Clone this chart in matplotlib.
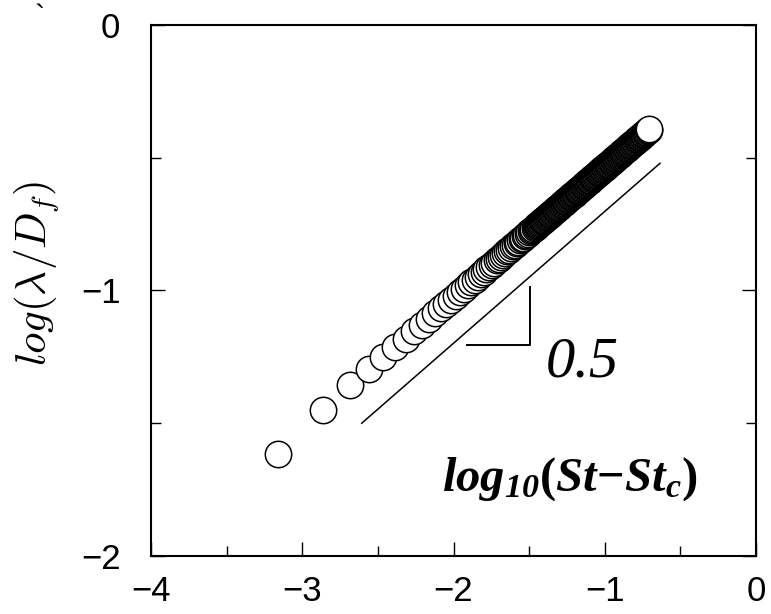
import matplotlib
matplotlib.use("Agg")
import matplotlib.pyplot as plt
from matplotlib.ticker import MultipleLocator

plt.rcParams['mathtext.fontset'] = 'custom'
plt.rcParams['mathtext.rm'] = 'Liberation Serif:bold'
plt.rcParams['mathtext.bf'] = 'Liberation Serif:bold'
plt.rcParams['mathtext.it'] = 'Liberation Serif:italic:bold'
plt.rcParams['mathtext.bfit'] = 'Liberation Serif:italic:bold'

# ---- data ----
# individually resolved circles
x_sparse = [-3.162, -2.861, -2.685, -2.560, -2.463, -2.384, -2.317, -2.259,
            -2.208, -2.162, -2.121, -2.083, -2.048, -2.016, -1.986, -1.958,
            -1.932, -1.907, -1.883, -1.861, -1.840, -1.820, -1.800, -1.782,
            -1.764, -1.747, -1.731, -1.715, -1.700, -1.685, -1.671, -1.657,
            -1.643, -1.631, -1.618, -1.606, -1.594, -1.582, -1.571, -1.560,
            -1.549, -1.539, -1.529, -1.519, -1.509, -1.499, -1.490, -1.481,
            -1.472, -1.463]
y_sparse = [-1.614, -1.450, -1.356, -1.296, -1.252, -1.214, -1.182, -1.154,
            -1.129, -1.106, -1.086, -1.067, -1.050, -1.035, -1.020, -1.006,
            -0.993, -0.981, -0.969, -0.959, -0.948, -0.939, -0.929, -0.920,
            -0.911, -0.903, -0.895, -0.887, -0.880, -0.872, -0.865, -0.859,
            -0.852, -0.846, -0.840, -0.834, -0.828, -0.822, -0.816, -0.811,
            -0.806, -0.801, -0.796, -0.791, -0.786, -0.781, -0.777, -0.772,
            -0.768, -0.764]

# densely packed circles forming the black band
x_dense = [-1.455, -1.450, -1.445, -1.440, -1.435, -1.430, -1.425, -1.420, -1.415, -1.410,
           -1.405, -1.400, -1.395, -1.390, -1.385, -1.380, -1.375, -1.370, -1.365, -1.360,
           -1.355, -1.350, -1.345, -1.340, -1.335, -1.330, -1.325, -1.320, -1.315, -1.310,
           -1.305, -1.300, -1.295, -1.290, -1.285, -1.280, -1.275, -1.270, -1.265, -1.260,
           -1.255, -1.250, -1.245, -1.240, -1.235, -1.230, -1.225, -1.220, -1.215, -1.210,
           -1.205, -1.200, -1.195, -1.190, -1.185, -1.180, -1.175, -1.170, -1.165, -1.160,
           -1.155, -1.150, -1.145, -1.140, -1.135, -1.130, -1.125, -1.120, -1.115, -1.110,
           -1.105, -1.100, -1.095, -1.090, -1.085, -1.080, -1.075, -1.070, -1.065, -1.060,
           -1.055, -1.050, -1.045, -1.040, -1.035, -1.030, -1.025, -1.020, -1.015, -1.010,
           -1.005, -1.000, -0.995, -0.990, -0.985, -0.980, -0.975, -0.970, -0.965, -0.960,
           -0.955, -0.950, -0.945, -0.940, -0.935, -0.930, -0.925, -0.920, -0.915, -0.910,
           -0.905, -0.900, -0.895, -0.890, -0.885, -0.880, -0.875, -0.870, -0.865, -0.860,
           -0.855, -0.850, -0.845, -0.840, -0.835, -0.830, -0.825, -0.820, -0.815, -0.810,
           -0.805, -0.800, -0.795, -0.790, -0.785, -0.780, -0.775, -0.770, -0.765, -0.760,
           -0.755, -0.750, -0.745, -0.740, -0.735, -0.730, -0.725, -0.720, -0.715, -0.710,
           -0.705]
y_dense = [-0.760, -0.757, -0.755, -0.752, -0.750, -0.747, -0.745, -0.742, -0.740, -0.738,
           -0.735, -0.733, -0.730, -0.728, -0.725, -0.723, -0.720, -0.718, -0.716, -0.713,
           -0.711, -0.708, -0.706, -0.703, -0.701, -0.698, -0.696, -0.693, -0.691, -0.689,
           -0.686, -0.684, -0.681, -0.679, -0.676, -0.674, -0.671, -0.669, -0.667, -0.664,
           -0.662, -0.659, -0.657, -0.654, -0.652, -0.649, -0.647, -0.645, -0.642, -0.640,
           -0.637, -0.635, -0.632, -0.630, -0.627, -0.625, -0.622, -0.620, -0.618, -0.615,
           -0.613, -0.610, -0.608, -0.605, -0.603, -0.600, -0.598, -0.596, -0.593, -0.591,
           -0.588, -0.586, -0.583, -0.581, -0.578, -0.576, -0.573, -0.571, -0.569, -0.566,
           -0.564, -0.561, -0.559, -0.556, -0.554, -0.551, -0.549, -0.547, -0.544, -0.542,
           -0.539, -0.537, -0.534, -0.532, -0.529, -0.527, -0.524, -0.522, -0.520, -0.517,
           -0.515, -0.512, -0.510, -0.507, -0.505, -0.502, -0.500, -0.498, -0.495, -0.493,
           -0.490, -0.488, -0.485, -0.483, -0.480, -0.478, -0.475, -0.473, -0.471, -0.468,
           -0.466, -0.463, -0.461, -0.458, -0.456, -0.453, -0.451, -0.449, -0.446, -0.444,
           -0.441, -0.439, -0.436, -0.434, -0.431, -0.429, -0.426, -0.424, -0.422, -0.419,
           -0.417, -0.414, -0.412, -0.409, -0.407, -0.404, -0.402, -0.400, -0.397, -0.395,
           -0.392]

# guide line with slope 0.5
guide_x = [-2.607, -0.635]
guide_y = [-1.500, -0.521]

# slope triangle
tri_x = [-1.911, -1.494, -1.494]
tri_y = [-1.205, -1.205, -0.987]

x_ticks = [-4, -3, -2, -1, 0]
y_ticks = [-2, -1, 0]
tick_labels_x = ['\u22124', '\u22123', '\u22122', '\u22121', '0']
tick_labels_y = ['\u22122', '\u22121', '0']

# ---- figure ----
fig = plt.figure(figsize=(7.71, 6.14), dpi=100)
ax = fig.add_axes([151/771, 1 - 556/614, 605/771, 531/614])

xs = x_sparse + x_dense
ys = y_sparse + y_dense
ax.plot(xs, ys, linestyle='none', marker='o', markersize=19,
        markerfacecolor='white', markeredgecolor='black', markeredgewidth=1.1,
        zorder=3)

ax.plot(guide_x, guide_y, color='black', lw=1.1, zorder=2)
ax.plot(tri_x, tri_y, color='black', lw=1.4, zorder=2)

ax.text(-1.15, -1.27, '0.5', fontsize=42, fontstyle='italic',
        family='Liberation Serif', ha='center', va='center')

ax.text(-1.23, -1.71,
        r'$\mathbfit{log}_{\mathbfit{10}}\mathbf{(}\mathbfit{St}\mathbf{-}\mathbfit{St}_{\mathbfit{c}}\mathbf{)}$',
        fontsize=35, ha='center', va='center', math_fontfamily='custom')

ax.set_xlim(-4, 0)
ax.set_ylim(-2, 0)
ax.set_xticks(x_ticks)
ax.set_xticklabels(tick_labels_x)
ax.set_yticks(y_ticks)
ax.set_yticklabels(tick_labels_y)
ax.xaxis.set_minor_locator(MultipleLocator(0.5))
ax.yaxis.set_minor_locator(MultipleLocator(0.5))
ax.tick_params(which='both', direction='in', top=False, right=True, width=1.0)
ax.tick_params(which='major', length=10)
ax.tick_params(which='minor', length=7)
ax.tick_params(axis='x', which='major', pad=14)
ax.tick_params(axis='y', which='major', pad=22)
for lab in ax.get_xticklabels() + ax.get_yticklabels():
    lab.set_fontfamily('Liberation Sans')
    lab.set_fontsize(25)
for sp in ax.spines.values():
    sp.set_linewidth(1.5)

fig.text(37/771, 1 - 273/614, r'$log(\lambda/D_f)$', rotation=90,
         fontsize=31, ha='center', va='center', math_fontfamily='cm')
fig.text(40/771, 1 - 4/614, '`', fontsize=22, ha='center', va='top',
         family='Liberation Sans')

fig.savefig('out.png', dpi=100)
